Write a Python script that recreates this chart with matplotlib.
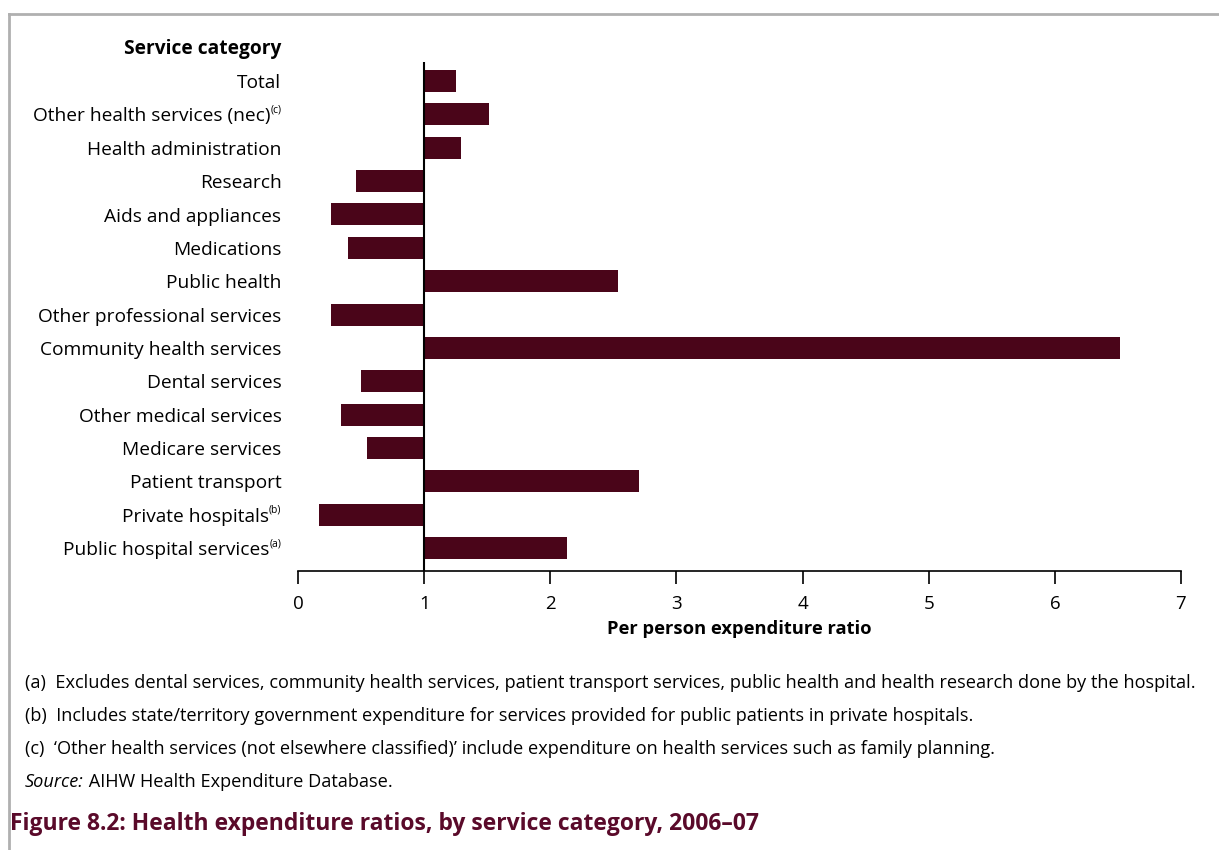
import matplotlib.pyplot as plt
from matplotlib.lines import Line2D

plt.rcParams['font.family'] = ['Open Sans', 'DejaVu Sans']

# data (top to bottom)
categories = ["Total", "Other health services (nec)", "Health administration", "Research",
              "Aids and appliances", "Medications", "Public health", "Other professional services",
              "Community health services", "Dental services", "Other medical services",
              "Medicare services", "Patient transport", "Private hospitals",
              "Public hospital services"]
label_notes = ["", "(c)", "", "", "", "", "", "", "", "", "", "", "", "(b)", "(a)"]
ratios = [1.25, 1.51, 1.29, 0.46, 0.26, 0.40, 2.54, 0.26, 6.52, 0.50, 0.34, 0.55, 2.70, 0.17, 2.13]
xticks = [0, 1, 2, 3, 4, 5, 6, 7]

footnotes = [
    "(a)  Excludes dental services, community health services, patient transport services, public health and health research done by the hospital.",
    "(b)  Includes state/territory government expenditure for services provided for public patients in private hospitals.",
    "(c)  \u2018Other health services (not elsewhere classified)\u2019 include expenditure on health services such as family planning.",
]

bar_col = "#4a0519"
title_col = "#5a0a2a"

fig = plt.figure(figsize=(12.19, 8.5), dpi=100)
ax = fig.add_axes([0.2445, 0.3282, 0.7243, 0.5988])

ypos = list(range(len(categories)))
ax.barh(ypos, [r - 1 for r in ratios], left=1, height=0.66, color=bar_col)
ax.axvline(1, color="black", lw=1.5, zorder=3)

ax.set_xlim(0, 7)
ax.set_ylim(14.69, -0.57)
ax.set_xticks(xticks)
ax.set_xticklabels([str(t) for t in xticks], fontsize=13.5)
ax.tick_params(axis="x", direction="out", length=9, width=1.2, pad=8)
ax.set_yticks([])
for s in ["top", "right", "left"]:
    ax.spines[s].set_visible(False)
ax.spines["bottom"].set_linewidth(1.2)
ax.set_xlabel("Per person expenditure ratio", fontsize=13.2, fontweight="bold", labelpad=5)

# category labels with superscript notes
lab_fs = 13.8
trans = ax.get_yaxis_transform()
for y, name, note in zip(ypos, categories, label_notes):
    if note:
        sup = ax.annotate(note, xy=(0, y), xycoords=trans, xytext=(-12, 3),
                          textcoords="offset points", ha="right", va="center", fontsize=7.5)
        ax.annotate(name, xy=(0, 0.5), xycoords=sup, xytext=(0, -4.5),
                    textcoords="offset points", ha="right", va="center", fontsize=lab_fs)
    else:
        ax.annotate(name, xy=(0, y), xycoords=trans, xytext=(-12, -1.5),
                    textcoords="offset points", ha="right", va="center", fontsize=lab_fs)
ax.annotate("Service category", xy=(0, -1), xycoords=trans, xytext=(-12, -1),
            textcoords="offset points", ha="right", va="center", fontsize=lab_fs,
            fontweight="bold", annotation_clip=False)

# notes
note_fs = 13.1
for i, t in enumerate(footnotes):
    fig.text(25 / 1219, 1 - (683 + 33 * i) / 850, t, fontsize=note_fs, va="center", ha="left")
src = fig.text(25 / 1219, 1 - 782 / 850, "Source:", fontsize=note_fs, style="italic", va="center")
ax.annotate(" AIHW Health Expenditure Database.", xy=(1, 0.5), xycoords=src, ha="left",
            va="center", fontsize=note_fs, annotation_clip=False)
fig.text(10 / 1219, 1 - 824 / 850, "Figure 8.2: Health expenditure ratios, by service category, 2006\u201307",
         fontsize=16.5, fontweight="bold", color=title_col, va="center")

# frame lines
fig.add_artist(Line2D([9 / 1219, 1], [1 - 14 / 850, 1 - 14 / 850], color="#b0b0b0", lw=2))
fig.add_artist(Line2D([9 / 1219, 9 / 1219], [0, 1 - 14 / 850], color="#b0b0b0", lw=2))

fig.savefig("out.png", dpi=100)
